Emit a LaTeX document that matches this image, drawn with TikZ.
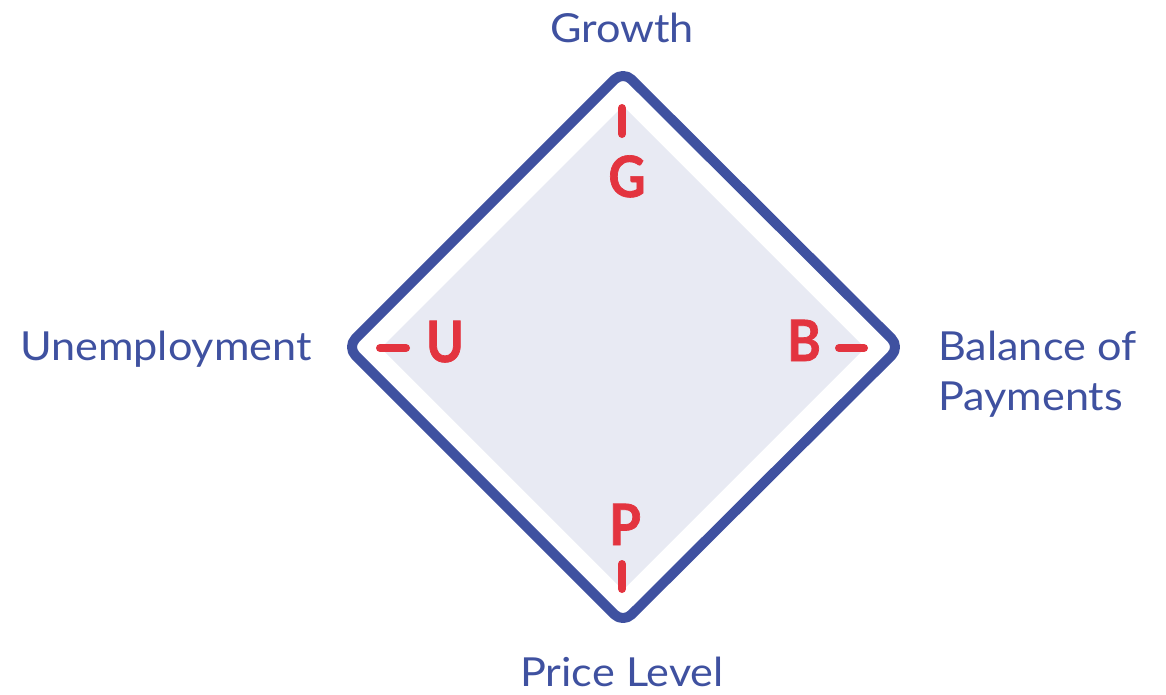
\documentclass[tikz,border=0pt]{standalone}
\usepackage{fontspec}
\setmainfont{Lato}[FakeStretch=1.08]
\newfontfamily\redfont{Lato}[FakeStretch=0.9,BoldFeatures={FakeBold=1.2}]
\definecolor{dblue}{HTML}{3F51A0}
\definecolor{dred}{HTML}{E3343F}
\definecolor{lfill}{HTML}{E8EAF3}
\begin{document}
\begin{tikzpicture}[x=1pt,y=-1pt,
  lbl/.style={text=dblue,font=\fontsize{40}{44}\selectfont,inner sep=0pt},
  letter/.style={text=dred,font=\redfont\fontsize{57}{60}\selectfont\bfseries,inner sep=0pt,anchor=base},
  tick/.style={draw=dred,line width=8pt,line cap=round}]
\useasboundingbox (0,0) rectangle (1166,694);
% inner fill
\fill[lfill] (623,106) -- (865,348) -- (623,590) -- (381,348) -- cycle;
% outer diamond
\draw[dblue,line width=10pt,rounded corners=12pt,line join=round]
  (623,71) -- (900,347) -- (623,623) -- (347,347) -- cycle;
% ticks
\draw[tick] (622,108) -- (622,134);
\draw[tick] (380,348) -- (406,348);
\draw[tick] (839,348) -- (864,348);
\draw[tick] (622,564) -- (622,589);
% letters
\node[letter] (G) at (627,197) {G};
\node[letter] (U) at (445,362) {U};
\node[letter] (B) at (804,361) {B};
\node[letter] (P) at (625,545) {P};
% labels
\node[lbl,anchor=base] (growth) at (622,42) {Growth};
\node[lbl,anchor=base east] (unemp) at (312,360) {Unemployment};
\node[lbl,anchor=base west] (bal1) at (938,360) {Balance of};
\node[lbl,anchor=base west] (bal2) at (938,410) {Payments};
\node[lbl,anchor=base] (price) at (622,686) {Price Level};
\end{tikzpicture}
\end{document}
